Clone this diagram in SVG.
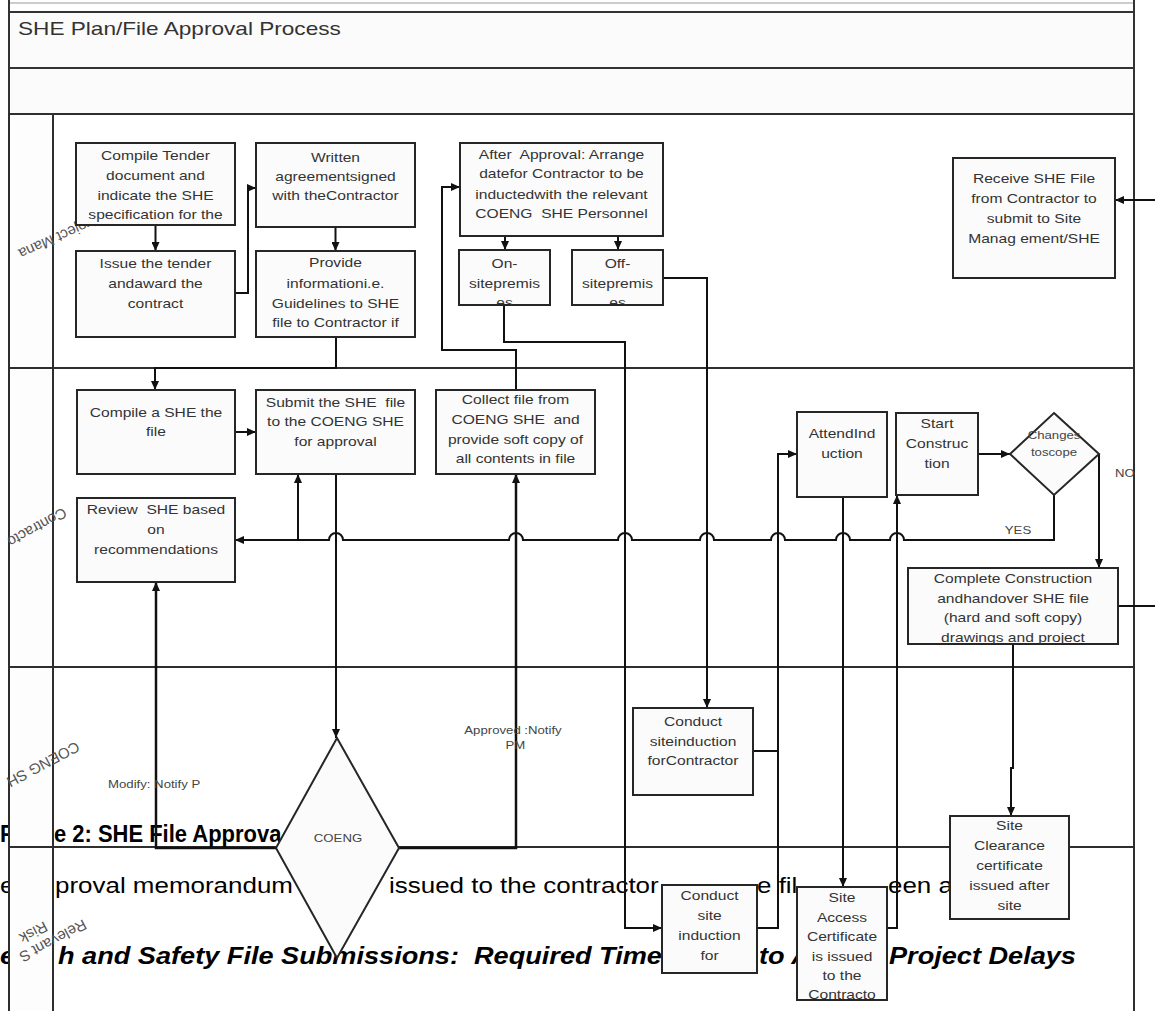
<svg xmlns="http://www.w3.org/2000/svg" width="1155" height="1011" viewBox="0 0 1155 1011">
<style>
.frame{fill:none;stroke:#2e2e2e;stroke-width:2}
.hdr{fill:#fdfdfd;stroke:#2e2e2e;stroke-width:2}
.row{fill:#fbfbfb;stroke:#333;stroke-width:2}
.box{fill:#fbfbfb;stroke:#262626;stroke-width:2}
.t{font-family:"Liberation Sans",Arial,sans-serif;font-size:13px;fill:#333;text-anchor:middle}
.s{font-family:"Liberation Sans",Arial,sans-serif;font-size:11px;fill:#444;text-anchor:middle}
.lane{font-family:"Liberation Sans",Arial,sans-serif;font-size:15px;fill:#555}
.title{font-family:"Liberation Sans",Arial,sans-serif;font-size:19px;fill:#333}
.d1{font-family:"Liberation Sans",Arial,sans-serif;font-size:24px;font-weight:bold;fill:#000}
.d2{font-family:"Liberation Sans",Arial,sans-serif;font-size:22px;fill:#000}
.d3{font-family:"Liberation Sans",Arial,sans-serif;font-size:23px;font-weight:bold;font-style:italic;fill:#000}
.c{fill:none;stroke:#111;stroke-width:2}
.ca{fill:none;stroke:#111;stroke-width:2;marker-end:url(#ah)}
</style>
<defs>
<marker id="ah" markerWidth="9" markerHeight="8" refX="9" refY="4" orient="auto" markerUnits="userSpaceOnUse"><path d="M0,0 L9,4 L0,8 z" fill="#111"/></marker>
<clipPath id="clipON"><rect x="459" y="250" width="91" height="55"/></clipPath>
<clipPath id="clipOFF"><rect x="572" y="250" width="91" height="55"/></clipPath>
<clipPath id="clipCC"><rect x="908" y="568" width="210" height="76"/></clipPath>
<clipPath id="clipSA"><rect x="797" y="887" width="90" height="113"/></clipPath>
</defs>
<rect x="0" y="0" width="1155" height="1011" fill="#fff"/>

<g id="pool">
<line x1="9" y1="3" x2="1134" y2="3" stroke="#999" stroke-width="1"/>
<line x1="9" y1="0" x2="9" y2="12" stroke="#333" stroke-width="2"/>
<line x1="1134" y1="0" x2="1134" y2="12" stroke="#333" stroke-width="2"/>
<rect class="row" x="9" y="12" width="1125" height="56"/>
<rect class="row" x="9" y="68" width="1125" height="46"/>
<text class="title" transform="translate(18 35) scale(1.19 1)">SHE Plan/File Approval Process</text>
<rect class="frame" x="53" y="114" width="1081" height="254"/>
<rect class="frame" x="53" y="368" width="1081" height="299"/>
<rect class="frame" x="53" y="667" width="1081" height="180"/>
<rect class="frame" x="53" y="847" width="1081" height="170"/>
</g>

<g id="document-text">
<text class="d1" transform="translate(0 842) scale(0.915 1)">F</text>
<text class="d1" transform="translate(54 842) scale(0.915 1)">e 2: SHE File Approva</text>
<text class="d2" transform="translate(0 893) scale(1.18 1)">e</text>
<text class="d2" transform="translate(55 893) scale(1.18 1)">proval memorandum</text>
<text class="d2" transform="translate(389 893) scale(1.18 1)">issued to the contractor</text>
<text class="d2" transform="translate(757 893) scale(1.18 1)">e fil</text>
<text class="d2" transform="translate(888 893) scale(1.18 1)">een a</text>
<text class="d3" transform="translate(0 964) scale(1.18 1)">e</text>
<text class="d3" xml:space="preserve" transform="translate(58 964) scale(1.18 1)">h and Safety File Submissions:  Required Time</text>
<text class="d3" transform="translate(759 964) scale(1.18 1)">to A</text>
<text class="d3" transform="translate(889 964) scale(1.18 1)">Project Delays</text>
</g>

<g id="lane-headers">
<rect class="hdr" x="9" y="114" width="44" height="254"/>
<rect class="hdr" x="9" y="368" width="44" height="299"/>
<rect class="hdr" x="9" y="667" width="44" height="180"/>
<rect class="hdr" x="9" y="847" width="44" height="170"/>
<text class="lane" transform="translate(98 214) rotate(156)">Project Mana</text>
<text class="lane" transform="translate(63 507) rotate(151)">Contracto</text>
<text class="lane" transform="translate(76 741) rotate(152)">COENG SH</text>
<text class="lane" transform="translate(83 919) rotate(152)">Relevant S</text>
<text class="lane" transform="translate(44 921) rotate(152)">Risk</text>
</g>

<g id="connectors">
<path class="ca" d="M155.5,225 V251"/>
<path class="ca" d="M235,293 H248 V188 H256"/>
<path class="ca" d="M335.5,227 V251"/>
<path class="ca" d="M336,337 V368 H155 V390"/>
<path class="ca" d="M505,236 V250"/>
<path class="ca" d="M618,236 V250"/>
<path class="ca" d="M504,305 V342 H625 V928 H662"/>
<path class="ca" d="M663,278 H707 V708"/>
<path class="ca" d="M753,751 H778 V454 H797"/>
<path class="c" d="M757,928 H778 V751"/>
<path class="ca" d="M843,497 V887"/>
<path class="ca" d="M887,928 H897 V495"/>
<path class="ca" d="M978,454 H1010"/>
<path class="ca" d="M1054,495 V540 H904 A7,7 0 0 0 890,540 H850 A7,7 0 0 0 836,540 H785 A7,7 0 0 0 771,540 H714 A7,7 0 0 0 700,540 H632 A7,7 0 0 0 618,540 H523 A7,7 0 0 0 509,540 H343 A7,7 0 0 0 329,540 H235"/>
<path class="ca" d="M298,540 V474"/>
<path class="ca" d="M1099,454 V568"/>
<path class="ca" d="M235,432 H256"/>
<path class="ca" d="M336,474 V738"/>
<path class="ca" d="M276,848 H156 V582" style="stroke-width:2.5"/>
<path class="ca" d="M399,848 H516 V474" style="stroke-width:2.5"/>
<path class="ca" d="M516,390 V350 H442 V187 H460"/>
<path class="c" d="M1118,606 H1155"/>
<path class="ca" d="M1155,200 H1115"/>
<path class="ca" d="M1013,644 V768 H1011 V816"/>
<text class="s" transform="translate(1018 534) scale(1.2 1)">YES</text>
<text class="s" style="text-anchor:start" transform="translate(1115 477) scale(1.2 1)">NO</text>
<text class="s" style="text-anchor:start" transform="translate(108 788) scale(1.2 1)">Modify: Notify P</text>
<text class="s" transform="translate(513 734) scale(1.2 1)"><tspan x="0" y="0">Approved :Notify</tspan><tspan x="2" y="15">PM</tspan></text>
</g>

<g id="n-compile-tender"><rect class="box" x="76" y="143" width="159" height="82"/>
<text class="t" transform="translate(155.5 0) scale(1.2 1)"><tspan x="0" y="160">Compile Tender</tspan><tspan x="0" y="180">document and</tspan><tspan x="0" y="200">indicate the SHE</tspan><tspan x="0" y="219">specification for the</tspan></text></g>
<g id="n-issue-tender"><rect class="box" x="76" y="251" width="159" height="86"/>
<text class="t" transform="translate(155.5 0) scale(1.2 1)"><tspan x="0" y="268">Issue the tender</tspan><tspan x="0" y="288">andaward the</tspan><tspan x="0" y="308">contract</tspan></text></g>
<g id="n-written-agreement"><rect class="box" x="256" y="143" width="159" height="84"/>
<text class="t" transform="translate(335.5 0) scale(1.2 1)"><tspan x="0" y="162">Written</tspan><tspan x="0" y="181">agreementsigned</tspan><tspan x="0" y="200">with theContractor</tspan></text></g>
<g id="n-provide-info"><rect class="box" x="256" y="251" width="159" height="86"/>
<text class="t" transform="translate(335.5 0) scale(1.2 1)"><tspan x="0" y="267">Provide</tspan><tspan x="0" y="288">informationi.e.</tspan><tspan x="0" y="308">Guidelines to SHE</tspan><tspan x="0" y="327">file to Contractor if</tspan></text></g>
<g id="n-after-approval"><rect class="box" x="460" y="143" width="203" height="93"/>
<text class="t" xml:space="preserve" transform="translate(561.5 0) scale(1.2 1)"><tspan x="0" y="159">After  Approval: Arrange</tspan><tspan x="0" y="178">datefor Contractor to be</tspan><tspan x="0" y="199">inductedwith the relevant</tspan><tspan x="0" y="218">COENG  SHE Personnel</tspan></text></g>
<g id="n-onsite"><rect class="box" x="459" y="250" width="91" height="55"/>
<g clip-path="url(#clipON)"><text class="t" transform="translate(504.5 0) scale(1.2 1)"><tspan x="0" y="268">On-</tspan><tspan x="0" y="288">sitepremis</tspan><tspan x="0" y="307">es</tspan></text></g></g>
<g id="n-offsite"><rect class="box" x="572" y="250" width="91" height="55"/>
<g clip-path="url(#clipOFF)"><text class="t" transform="translate(617.5 0) scale(1.2 1)"><tspan x="0" y="268">Off-</tspan><tspan x="0" y="288">sitepremis</tspan><tspan x="0" y="307">es</tspan></text></g></g>
<g id="n-receive-file"><rect class="box" x="953" y="158" width="162" height="120"/>
<text class="t" transform="translate(1034 0) scale(1.2 1)"><tspan x="0" y="183">Receive SHE File</tspan><tspan x="0" y="203">from Contractor to</tspan><tspan x="0" y="223">submit to Site</tspan><tspan x="0" y="243">Manag ement/SHE</tspan></text></g>

<g id="n-compile-she"><rect class="box" x="77" y="390" width="158" height="84"/>
<text class="t" transform="translate(156 0) scale(1.2 1)"><tspan x="0" y="417">Compile a SHE the</tspan><tspan x="0" y="436">file</tspan></text></g>
<g id="n-submit-she"><rect class="box" x="256" y="390" width="159" height="84"/>
<text class="t" xml:space="preserve" transform="translate(335.5 0) scale(1.2 1)"><tspan x="0" y="407">Submit the SHE  file</tspan><tspan x="0" y="426">to the COENG SHE</tspan><tspan x="0" y="446">for approval</tspan></text></g>
<g id="n-collect-file"><rect class="box" x="436" y="390" width="159" height="84"/>
<text class="t" xml:space="preserve" transform="translate(515.5 0) scale(1.2 1)"><tspan x="0" y="404">Collect file from</tspan><tspan x="0" y="424">COENG SHE  and</tspan><tspan x="0" y="444">provide soft copy of</tspan><tspan x="0" y="463">all contents in file</tspan></text></g>
<g id="n-review-she"><rect class="box" x="77" y="498" width="158" height="84"/>
<text class="t" xml:space="preserve" transform="translate(156 0) scale(1.2 1)"><tspan x="0" y="514">Review  SHE based</tspan><tspan x="0" y="534">on</tspan><tspan x="0" y="554">recommendations</tspan></text></g>
<g id="n-attend-induction"><rect class="box" x="797" y="412" width="90" height="85"/>
<text class="t" transform="translate(842 0) scale(1.2 1)"><tspan x="0" y="438">AttendInd</tspan><tspan x="0" y="458">uction</tspan></text></g>
<g id="n-start-construction"><rect class="box" x="896" y="413" width="82" height="82"/>
<text class="t" transform="translate(937 0) scale(1.2 1)"><tspan x="0" y="428">Start</tspan><tspan x="0" y="448">Construc</tspan><tspan x="0" y="468">tion</tspan></text></g>
<g id="n-changes-scope"><polygon class="box" points="1054,413 1099,454 1054,495 1010,454"/>
<text class="s" transform="translate(1054 0) scale(1.2 1)"><tspan x="0" y="439">Changes</tspan><tspan x="0" y="456">toscope</tspan></text></g>
<g id="n-complete-construction"><rect class="box" x="908" y="568" width="210" height="76"/>
<g clip-path="url(#clipCC)"><text class="t" transform="translate(1013 0) scale(1.2 1)"><tspan x="0" y="583">Complete Construction</tspan><tspan x="0" y="603">andhandover SHE file</tspan><tspan x="0" y="622">(hard and soft copy)</tspan><tspan x="0" y="642">drawings and project</tspan></text></g></g>

<g id="n-conduct-siteinduction"><rect class="box" x="633" y="708" width="120" height="87"/>
<text class="t" transform="translate(693 0) scale(1.2 1)"><tspan x="0" y="726">Conduct</tspan><tspan x="0" y="746">siteinduction</tspan><tspan x="0" y="765">forContractor</tspan></text></g>
<g id="n-coeng"><polygon class="box" points="337,738 399,848 337,958 276,848"/>
<text class="s" transform="translate(338 842) scale(1.2 1)">COENG</text></g>

<g id="n-conduct-site-induction"><rect class="box" x="662" y="885" width="95" height="88"/>
<text class="t" transform="translate(709.5 0) scale(1.2 1)"><tspan x="0" y="900">Conduct</tspan><tspan x="0" y="920">site</tspan><tspan x="0" y="940">induction</tspan><tspan x="0" y="960">for</tspan></text></g>
<g id="n-site-access"><rect class="box" x="797" y="887" width="90" height="113"/>
<g clip-path="url(#clipSA)"><text class="t" transform="translate(842 0) scale(1.2 1)"><tspan x="0" y="902">Site</tspan><tspan x="0" y="922">Access</tspan><tspan x="0" y="941">Certificate</tspan><tspan x="0" y="961">is issued</tspan><tspan x="0" y="980">to the</tspan><tspan x="0" y="999">Contracto</tspan></text></g></g>
<g id="n-site-clearance"><rect class="box" x="950" y="816" width="119" height="103"/>
<text class="t" transform="translate(1009.5 0) scale(1.2 1)"><tspan x="0" y="830">Site</tspan><tspan x="0" y="850">Clearance</tspan><tspan x="0" y="870">certificate</tspan><tspan x="0" y="890">issued after</tspan><tspan x="0" y="910">site</tspan></text></g>
</svg>
